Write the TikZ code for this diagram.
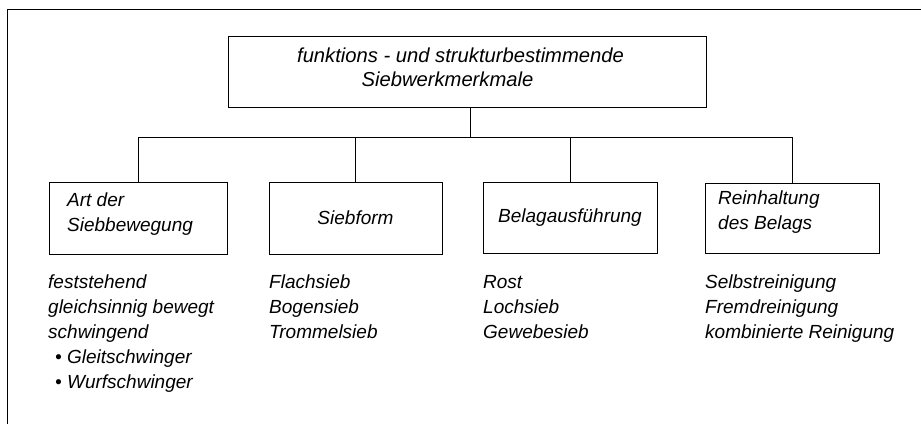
\documentclass[tikz,border=0pt]{standalone}
\usepackage{fontspec}
\setmainfont{Liberation Sans}
\begin{document}
\begin{tikzpicture}[x=1pt,y=-1pt,
  txt/.style={font=\itshape\fontsize{19}{25}\selectfont, inner sep=0pt},
  box/.style={draw, line width=0.9pt, inner sep=0pt, font=\itshape\fontsize{19}{25}\selectfont},
  conn/.style={line width=0.9pt}]
\useasboundingbox (0,0) rectangle (921,424);
% frame
\draw[line width=0.9pt] (921,9.5) -- (7,9.5) -- (7,424);
% top box
\node[box, minimum width=478pt, minimum height=71pt] (top) at (467,71.5) {};
\node[txt, align=center, font=\itshape\fontsize{20.2}{24}\selectfont] (tt) at (460.5,67)
  {funktions - und strukturbestimmende\\Siebwerkmerkmale\hspace*{26pt}};
% second level boxes
\node[box, minimum width=178pt, minimum height=72pt] (b1) at (138,218) {};
\node[txt, align=left, anchor=west] (t1) at (67,214.5) {Art der\\Siebbewegung};
\node[box, minimum width=173pt, minimum height=72pt] (b2) at (355.5,218) {Siebform};
\node[box, minimum width=174pt, minimum height=71pt] (b3) at (570,217.5) {Belagausführung};
\node[box, minimum width=174pt, minimum height=70pt] (b4) at (792,218) {};
\node[txt, align=left, anchor=west] (t4) at (718,212.5) {Reinhaltung\\des Belags};
% connectors
\coordinate (j) at (470,137);
\draw[conn] ([xshift=3pt]top.south) -- (j);
\draw[conn] (b1.north) -- (b1.north |- j) -- (b4.north |- j) -- (b4.north);
\draw[conn] (b2.north) -- (b2.north |- j);
\draw[conn] (b3.north) -- (b3.north |- j);
% lists
\node[txt, align=left, anchor=north west] (l1) at (48,275)
  {feststehend\\gleichsinnig bewegt\\schwingend\\
   \hspace*{7pt}\textbullet\ Gleitschwinger\\
   \hspace*{7pt}\textbullet\ Wurfschwinger};
\node[txt, align=left, anchor=north west] (l2) at (269,275)
  {Flachsieb\\Bogensieb\\Trommelsieb};
\node[txt, align=left, anchor=north west] (l3) at (483,275)
  {Rost\\Lochsieb\\Gewebesieb};
\node[txt, align=left, anchor=north west] (l4) at (705,275)
  {Selbstreinigung\\Fremdreinigung\\kombinierte Reinigung};
\end{tikzpicture}
\end{document}
